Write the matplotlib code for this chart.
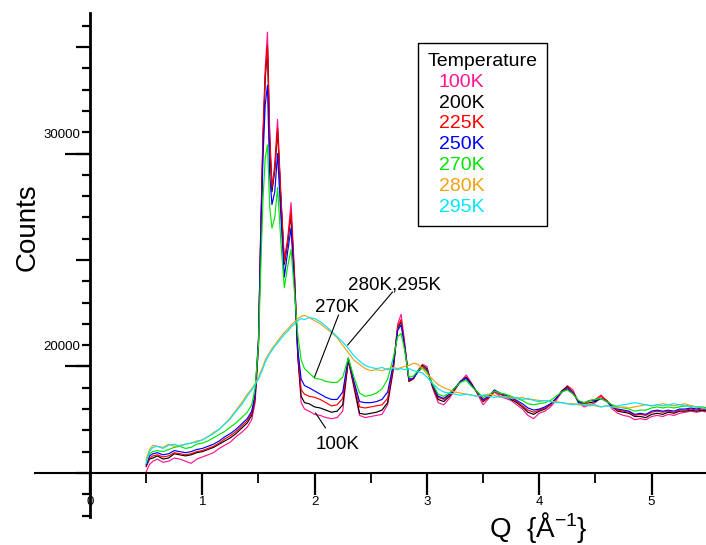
import matplotlib
matplotlib.use("Agg")
import matplotlib.pyplot as plt
from matplotlib.ticker import MultipleLocator
from matplotlib.transforms import offset_copy

plt.rcParams['font.family'] = ['Liberation Sans', 'DejaVu Sans']
plt.rcParams['mathtext.fontset'] = 'custom'
plt.rcParams['mathtext.rm'] = 'Liberation Sans'
plt.rcParams['mathtext.it'] = 'Liberation Sans:italic'
plt.rcParams['mathtext.bf'] = 'Liberation Sans:bold'

# Q grid (1/A), shared by all temperatures
q = [0.50, 0.53, 0.56, 0.60, 0.65, 0.70, 0.75, 0.80, 0.85, 0.90,
     0.95, 1.00, 1.05, 1.10, 1.15, 1.20, 1.25, 1.30, 1.35, 1.40,
     1.44, 1.47, 1.50, 1.52, 1.54, 1.56, 1.58, 1.60, 1.62, 1.645,
     1.67, 1.70, 1.73, 1.76, 1.79, 1.82, 1.85, 1.88, 1.91,
     1.95, 2.00, 2.05, 2.10, 2.15, 2.20, 2.25, 2.30, 2.35, 2.40,
     2.45, 2.50, 2.55, 2.60, 2.65, 2.70,
     2.74, 2.77, 2.80, 2.84, 2.88, 2.92, 2.96,
     3.00, 3.05, 3.10, 3.15, 3.20, 3.25, 3.30, 3.35, 3.40, 3.45,
     3.50, 3.55, 3.60, 3.65, 3.70, 3.75, 3.80, 3.85, 3.90, 3.95,
     4.00, 4.05, 4.10, 4.15, 4.20, 4.25, 4.30, 4.35, 4.40, 4.45,
     4.50, 4.55, 4.60, 4.65, 4.70, 4.75, 4.80, 4.85, 4.90, 4.95,
     5.00, 5.05, 5.10, 5.15, 5.20, 5.25, 5.30, 5.35, 5.40, 5.45,
     5.50]

counts_100k = [15050, 15400, 15550, 15650, 15500, 15550, 15700, 15650, 15550, 15450,
               15650, 15750, 15850, 15950, 16150, 16300, 16450, 16700, 16900, 17150,
               17500, 18300, 21000, 26500, 31000, 34000, 35700, 31000, 28400, 29500,
               31600, 28000, 25000, 26000, 27700, 24500, 20500, 18300, 18000,
               17900, 17750, 17700, 17600, 17550, 17600, 17900, 20300, 19000, 17700,
               17600, 17650, 17700, 17750, 18200, 19800,
               22000, 22450, 21200, 19300, 19400, 19800, 20100,
               20000, 19000, 18300, 18200, 18500, 18900, 19300, 19600, 19200, 18700,
               18200, 18500, 18800, 18600, 18500, 18400, 18200, 18000, 17700, 17550,
               17800, 17900, 18100, 18400, 18800, 19100, 18900, 18300, 18100, 18200,
               18300, 18600, 18400, 18000, 17800, 17700, 17650, 17500, 17550, 17500,
               17650, 17700, 17650, 17750, 17700, 17800, 17850, 17900, 17850, 17900,
               17850]

counts_200k = [15300, 15650, 15700, 15800, 15650, 15700, 15900, 15850, 15800, 15850,
               15950, 16000, 16100, 16200, 16350, 16500, 16650, 16850, 17100, 17350,
               17700, 18500, 21000, 26000, 30500, 33500, 35000, 30500, 28200, 29200,
               31100, 27800, 24800, 25800, 27100, 24200, 20500, 18600, 18300,
               18250, 18100, 18050, 17950, 17850, 17900, 18200, 20300, 19100, 17800,
               17750, 17800, 17850, 17950, 18300, 19900,
               21800, 22100, 21000, 19300, 19450, 19800, 20050,
               19900, 19050, 18450, 18350, 18600, 18950, 19300, 19500, 19150, 18750,
               18350, 18550, 18850, 18700, 18600, 18450, 18300, 18100, 17850, 17750,
               17900, 18000, 18200, 18500, 18850, 19050, 18800, 18300, 18200, 18300,
               18350, 18500, 18400, 18100, 17900, 17850, 17800, 17650, 17650, 17600,
               17750, 17800, 17750, 17850, 17800, 17900, 17900, 17950, 17900, 17950,
               17900]

counts_225k = [15350, 15700, 15800, 15850, 15750, 15800, 15950, 15900, 15850, 15900,
               16000, 16050, 16150, 16250, 16400, 16600, 16750, 16950, 17200, 17450,
               17800, 18600, 21200, 26300, 30800, 33700, 35100, 30800, 28400, 29300,
               31200, 27900, 24900, 25900, 27300, 24300, 20700, 18900, 18700,
               18600, 18550, 18450, 18300, 18150, 18200, 18500, 20350, 19200, 18100,
               18050, 18100, 18150, 18200, 18500, 20000,
               21900, 22200, 21100, 19350, 19450, 19800, 20000,
               19850, 19100, 18550, 18450, 18650, 19000, 19300, 19450, 19100, 18750,
               18400, 18550, 18850, 18700, 18600, 18500, 18350, 18150, 17950, 17850,
               17950, 18050, 18200, 18500, 18800, 19000, 18800, 18350, 18250, 18400,
               18450, 18650, 18400, 18150, 17950, 17900, 17850, 17700, 17750, 17700,
               17850, 17900, 17850, 17900, 17850, 17950, 17950, 18000, 17950, 18000,
               17950]

counts_250k = [15400, 15800, 15900, 15950, 15850, 15900, 16050, 16000, 15950, 16000,
               16100, 16150, 16250, 16350, 16500, 16700, 16850, 17050, 17300, 17550,
               17900, 18700, 21300, 26000, 29800, 32300, 33200, 29000, 27600, 28200,
               30000, 27000, 24200, 25400, 26500, 23800, 20800, 19400, 19100,
               19000, 18850, 18700, 18550, 18450, 18450, 18800, 20400, 19300, 18350,
               18300, 18300, 18350, 18450, 18800, 20100,
               21700, 21950, 21000, 19400, 19450, 19750, 19950,
               19800, 19150, 18600, 18500, 18700, 19000, 19300, 19450, 19100, 18800,
               18450, 18600, 18900, 18750, 18650, 18550, 18400, 18250, 18050, 17950,
               18000, 18100, 18250, 18500, 18800, 18950, 18750, 18350, 18300, 18400,
               18400, 18500, 18350, 18150, 18000, 17950, 17900, 17750, 17800, 17750,
               17900, 17950, 17900, 17950, 17900, 18000, 18000, 18050, 18000, 18050,
               18000]

counts_270k = [15550, 15900, 16000, 16050, 16000, 16100, 16200, 16250, 16150, 16200,
               16350, 16400, 16500, 16650, 16800, 16950, 17150, 17350, 17600, 17850,
               18200, 19000, 21000, 24500, 27800, 29800, 30400, 27500, 26500, 27000,
               28400, 25800, 23700, 24700, 25500, 23500, 21500, 20300, 19900,
               19700, 19450, 19400, 19300, 19250, 19250, 19500, 20400, 19500, 18750,
               18600, 18650, 18750, 18950, 19400, 20400,
               21400, 21550, 20800, 19500, 19550, 19800, 19950,
               19750, 19200, 18700, 18600, 18750, 19000, 19250, 19350, 19050, 18800,
               18550, 18650, 18850, 18750, 18700, 18600, 18500, 18400, 18250, 18200,
               18250, 18300, 18400, 18600, 18800, 18900, 18700, 18400, 18300, 18400,
               18450, 18500, 18350, 18200, 18100, 18050, 18000, 17900, 17950, 17950,
               18050, 18100, 18050, 18100, 18050, 18100, 18150, 18150, 18100, 18100,
               18050]

counts_280k = [15650, 16100, 16300, 16250, 16200, 16350, 16250, 16300, 16350, 16400,
               16500, 16550, 16700, 16900, 17050, 17300, 17600, 17950, 18300, 18700,
               18950, 19200, 19500, 19750, 20000, 20300, 20500, 20650, 20850, 21000,
               21200, 21400, 21600, 21750, 21950, 22100, 22250, 22350, 22400,
               22300, 22150, 22000, 21800, 21600, 21350, 21000, 20650, 20300, 20100,
               19900, 19800, 19850, 19800, 19900, 19950,
               19900, 19950, 20000, 20050, 20150, 20100, 19900,
               19650, 19400, 19150, 19000, 18900, 18800, 18750, 18700, 18650, 18600,
               18650, 18700, 18650, 18550, 18600, 18550, 18500, 18550, 18450, 18450,
               18400, 18400, 18350, 18350, 18300, 18250, 18250, 18200, 18200, 18250,
               18150, 18100, 18150, 18100, 18050, 18100, 18050, 18100, 18150, 18200,
               18150, 18200, 18250, 18200, 18150, 18200, 18250, 18150, 18100, 18050,
               18000]

counts_295k = [15450, 16000, 16200, 16250, 16150, 16300, 16350, 16250, 16350, 16400,
               16450, 16550, 16700, 16850, 17050, 17300, 17550, 17900, 18200, 18600,
               18900, 19150, 19400, 19650, 19900, 20200, 20400, 20600, 20750, 20950,
               21100, 21300, 21500, 21650, 21850, 22000, 22150, 22250, 22200,
               22300, 22250, 22100, 21900, 21650, 21400, 21150, 20850, 20500, 20250,
               20050, 19950, 19900, 19950, 19850, 19900,
               19850, 19900, 19850, 19900, 19800, 19750, 19700,
               19500, 19200, 18950, 18800, 18750, 18700, 18650, 18700, 18650, 18600,
               18650, 18600, 18550, 18600, 18550, 18500, 18550, 18450, 18500, 18400,
               18350, 18400, 18350, 18300, 18300, 18250, 18200, 18250, 18200, 18150,
               18200, 18100, 18150, 18100, 18150, 18200, 18250, 18300, 18250, 18200,
               18150, 18200, 18150, 18200, 18250, 18200, 18150, 18100, 18100, 18050,
               18000]

temps = ['100K', '200K', '225K', '250K', '270K', '280K', '295K']
colors = ['#ff1493', '#000000', '#ff0000', '#0000ff', '#00e600', '#eca313', '#00e5ff']
series = [counts_100k, counts_200k, counts_225k, counts_250k,
          counts_270k, counts_280k, counts_295k]

fig = plt.figure(figsize=(7.06, 5.45), dpi=100)
ax = fig.add_axes([35 / 706, 1 - 517 / 545, 671 / 706, 504 / 545])

for vals, c, t in zip(series, colors, temps):
    ax.plot(q, vals, color=c, lw=0.85, label=t)

x0, x1 = -0.49, 5.485
ax.set_xlim(x0, x1)
ax.set_ylim(12930, 36600)

# axes cross at Q=0, Counts=15000
ax.spines['left'].set_position(('data', 0))
ax.spines['bottom'].set_position(('data', 15000))
ax.spines['top'].set_visible(False)
ax.spines['right'].set_visible(False)
ax.spines['left'].set_linewidth(2)
ax.spines['bottom'].set_linewidth(1.5)

ax.xaxis.set_major_locator(MultipleLocator(1))
ax.xaxis.set_minor_locator(MultipleLocator(0.5))
ax.tick_params(axis='x', which='major', direction='out', length=16, width=1.6,
               labelsize=9.5, pad=0.5)
ax.tick_params(axis='x', which='minor', direction='out', length=7, width=1.3)

ax.yaxis.set_major_locator(MultipleLocator(5000))
ax.yaxis.set_minor_locator(MultipleLocator(1000))
ax.tick_params(axis='y', which='major', direction='out', length=10, width=1.6,
               labelleft=False)
ax.tick_params(axis='y', which='minor', direction='out', length=6, width=1.6)

# long ticks at every 10000
sec = ax.secondary_yaxis((0 - x0) / (x1 - x0))
sec.set_yticks([20000, 30000])
sec.tick_params(axis='y', direction='out', length=18, width=1.6, labelleft=False)
sec.spines['left'].set_visible(False)

# y labels sit one minor step above their ticks, like the original
for v in [20000, 30000]:
    tr = offset_copy(ax.transData, fig=fig, x=-10, y=19, units='dots')
    ax.text(0, v, str(v), transform=tr, ha='right', va='center', fontsize=9.5)

ax.set_ylabel('Counts', fontsize=20)
ax.yaxis.set_label_coords(0.009, 0.575)
ax.set_xlabel('Q  {Å$^{-1}$}', fontsize=20)
ax.xaxis.set_label_coords(0.75, 0.013)

leg = ax.legend(title='Temperature', loc='upper left',
                bbox_to_anchor=(418 / 706, 1 - 43 / 545),
                bbox_transform=fig.transFigure, borderaxespad=0,
                handlelength=0, handletextpad=0.57, labelcolor='linecolor',
                fontsize=14, title_fontsize=14, labelspacing=0.17,
                borderpad=0.5, alignment='left', fancybox=False,
                edgecolor='black', framealpha=1)
for h in leg.legend_handles:
    h.set_visible(False)
leg.get_frame().set_linewidth(1.0)

# leader labels
line_kw = dict(arrowstyle='-', color='black', lw=0.8, shrinkA=0, shrinkB=0)
ax.text(2.293, 23830, '280K,295K', ha='left', va='center', fontsize=13.5)
ax.annotate('', xy=(2.293, 21000), xytext=(2.694, 23500), arrowprops=line_kw)
ax.text(2.0, 22790, '270K', ha='left', va='center', fontsize=13.5)
ax.annotate('', xy=(1.999, 19500), xytext=(2.213, 22420), arrowprops=line_kw)
ax.text(2.008, 16315, '100K', ha='left', va='center', fontsize=13.5)
ax.annotate('', xy=(2.008, 17820), xytext=(2.097, 17110), arrowprops=line_kw)

fig.savefig('out.png', dpi=100)
